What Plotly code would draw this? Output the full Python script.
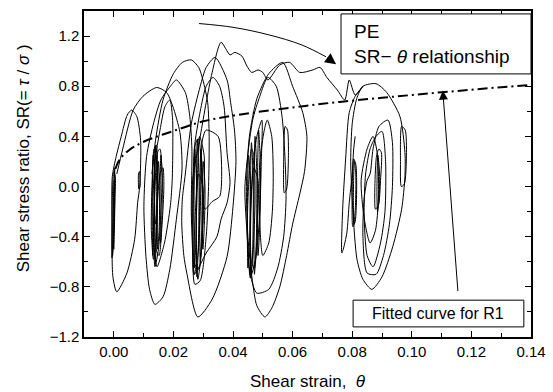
import plotly.graph_objects as go

# ---------------- data ----------------
# Group A loops (strain ~ 0.00)
group_a_x = [0.0000, -0.0005, -0.0006, -0.0002, 0.0004, 0.0005, 0.0000, None,
             0.0001, -0.0003, 0.0000, 0.0003, 0.0001, None,
             0.0003, -0.0002, -0.0004, 0.0002, 0.0003, None,
             -0.0005, 0.0008, 0.0025, 0.0045, 0.0060, 0.0077, 0.0090, 0.0087, 0.0080, 0.0070, 0.0044, 0.0010, -0.0003, -0.0006, -0.0005, None,
             0.0084, 0.0083, 0.0086, 0.0088, 0.0084]
group_a_y = [0.12, -0.10, -0.57, -0.45, -0.10, 0.08, 0.12, None,
             0.05, -0.35, -0.50, -0.20, 0.05, None,
             0.15, -0.30, -0.55, -0.20, 0.15, None,
             0.08, 0.24, 0.40, 0.57, 0.61, 0.56, 0.37, 0.00, -0.13, -0.42, -0.69, -0.84, -0.72, -0.29, 0.08, None,
             -0.02, 0.10, 0.12, 0.00, -0.02]

# Transition path A -> B (arc peaking near 0.79 and 0.85)
path_ab_x = [0.0010, 0.0030, 0.0065, 0.0098, 0.0144, 0.0177, 0.0198, 0.0222, 0.0229, 0.0210, 0.0188, 0.0165, 0.0138,
             0.0120, 0.0108, 0.0101, 0.0110, 0.0134, 0.0158, 0.0190, 0.0210, 0.0240, 0.0255, 0.0262, 0.0260, 0.0265]
path_ab_y = [0.10, 0.30, 0.61, 0.72, 0.79, 0.75, 0.64, 0.43, 0.14, -0.26, -0.66, -0.88, -0.94,
             -0.82, -0.56, -0.16, 0.24, 0.51, 0.69, 0.80, 0.85, 0.75, 0.56, 0.30, -0.20, -0.55]

# Group B loops (strain ~ 0.015)
group_b_x = [0.0135, 0.0128, 0.0126, 0.0133, 0.0142, 0.0146, 0.0145, 0.0135, None,
             0.0148, 0.0138, 0.0134, 0.0138, 0.0150, 0.0158, 0.0162, 0.0155, 0.0148, None,
             0.0155, 0.0145, 0.0142, 0.0152, 0.0162, 0.0168, 0.0165, 0.0155, None,
             0.0140, 0.0136, 0.0139, 0.0144, 0.0147, 0.0143, 0.0140, None,
             0.0132, 0.0129, 0.0131, 0.0135, 0.0137, 0.0132, None,
             0.0140, 0.0137, 0.0139, 0.0143, 0.0144, 0.0140, None,
             0.0150, 0.0146, 0.0147, 0.0152, 0.0154, 0.0150, None,
             0.0158, 0.0155, 0.0157, 0.0161, 0.0163, 0.0158, None,
             0.0132, 0.0138, 0.0155, 0.0172, 0.0188, 0.0197, 0.0198, 0.0196, 0.0190, 0.0170, 0.0145, 0.0136, 0.0132, None,
             0.0128, 0.0140, 0.0165, 0.0200, 0.0230, 0.0260, 0.0285, 0.0299, 0.0315, 0.0320, 0.0318, 0.0310, 0.0290, 0.0272, 0.0265]
group_b_y = [0.30, 0.00, -0.35, -0.58, -0.45, -0.10, 0.20, 0.30, None,
             0.28, 0.00, -0.40, -0.64, -0.50, -0.20, 0.10, 0.30, 0.28, None,
             0.10, -0.20, -0.50, -0.55, -0.30, 0.00, 0.15, 0.10, None,
             0.32, 0.05, -0.30, -0.20, 0.10, 0.33, 0.32, None,
             0.25, -0.20, -0.55, -0.30, 0.10, 0.25, None,
             0.33, -0.10, -0.62, -0.40, 0.00, 0.33, None,
             0.20, -0.20, -0.50, -0.35, 0.00, 0.20, None,
             0.25, -0.10, -0.45, -0.25, 0.05, 0.25, None,
             -0.10, 0.20, 0.45, 0.64, 0.69, 0.55, 0.30, 0.05, -0.15, -0.45, -0.64, -0.50, -0.10, None,
             0.10, 0.37, 0.69, 0.90, 0.99, 1.01, 0.95, 0.85, 0.67, 0.40, 0.00, -0.40, -0.75, -0.78, -0.50]

# Group C loops (strain ~ 0.028)
group_c_x = [0.0245, 0.0282, 0.0330, 0.0380, 0.0400, 0.0410, 0.0405, 0.0392, 0.0380, 0.0340, 0.0310, 0.0290, 0.0260, 0.0240, 0.0230, 0.0228, 0.0235, 0.0245, None,
             0.0275, 0.0268, 0.0265, 0.0270, 0.0282, 0.0290, 0.0292, 0.0285, 0.0275, None,
             0.0288, 0.0280, 0.0276, 0.0282, 0.0295, 0.0302, 0.0303, 0.0288, None,
             0.0285, 0.0272, 0.0272, 0.0285, 0.0297, 0.0299, 0.0285, None,
             0.0272, 0.0269, 0.0271, 0.0276, 0.0278, 0.0272, None,
             0.0280, 0.0277, 0.0279, 0.0284, 0.0286, 0.0280, None,
             0.0292, 0.0288, 0.0290, 0.0295, 0.0297, 0.0292, None,
             0.0300, 0.0297, 0.0299, 0.0304, 0.0306, 0.0300, None,
             0.0270, 0.0290, 0.0310, 0.0333, 0.0355, 0.0370, 0.0380, 0.0390, 0.0380, 0.0360, 0.0346, 0.0310, 0.0270, 0.0265, 0.0270, None,
             0.0296, 0.0306, 0.0330, 0.0355, 0.0362, 0.0350, 0.0310, 0.0296]
group_c_y = [-0.69, -1.04, -0.90, -0.56, -0.16, 0.20, 0.45, 0.67, 0.85, 1.03, 0.95, 0.80, 0.50, 0.10, -0.10, -0.29, -0.55, -0.69, None,
             0.35, 0.00, -0.40, -0.70, -0.55, -0.20, 0.20, 0.38, 0.35, None,
             0.40, 0.00, -0.45, -0.74, -0.50, -0.10, 0.25, 0.40, None,
             0.10, -0.30, -0.62, -0.66, -0.35, 0.00, 0.10, None,
             0.30, -0.20, -0.65, -0.40, 0.00, 0.30, None,
             0.38, -0.10, -0.72, -0.45, 0.05, 0.38, None,
             0.30, -0.15, -0.60, -0.35, 0.10, 0.30, None,
             0.20, -0.20, -0.50, -0.30, 0.00, 0.20, None,
             0.30, 0.60, 0.80, 0.87, 0.80, 0.64, 0.27, 0.03, -0.13, -0.26, -0.40, -0.53, -0.70, -0.40, 0.30, None,
             0.35, -0.18, -0.12, -0.08, 0.10, 0.40, 0.45, 0.35]

# Long wavy path from group C peak to group E
path_ce_x = [0.0262, 0.0265, 0.0290, 0.0310, 0.0330, 0.0360, 0.0390, 0.0406, 0.0430, 0.0447, 0.0463, 0.0484, 0.0500,
             0.0517, 0.0557, 0.0590, 0.0624, 0.0668, 0.0692, 0.0715, 0.0750, 0.0775, 0.0790, 0.0810, 0.0836]
path_ce_y = [-0.30, 0.06, 0.40, 0.67, 0.91, 1.15, 1.05, 1.07, 1.04, 0.96, 0.91, 0.93, 0.91,
             0.85, 0.97, 0.99, 0.91, 0.93, 0.95, 0.87, 0.77, 0.69, 0.85, 0.73, 0.80]

# Group D loops (strain ~ 0.05)
group_d_x = [0.0567, 0.0600, 0.0634, 0.0648, 0.0640, 0.0624, 0.0600, 0.0580, 0.0557, 0.0530, 0.0507, 0.0480, 0.0465, 0.0450, 0.0445, 0.0455, 0.0480, 0.0520, 0.0567, None,
             0.0440, 0.0466, 0.0490, 0.0517, 0.0545, 0.0565, 0.0575, 0.0578, 0.0570, 0.0550, 0.0520, 0.0480, 0.0458, 0.0448, 0.0440, None,
             0.0575, 0.0570, 0.0572, 0.0580, 0.0586, 0.0583, 0.0575, None,
             0.0462, 0.0452, 0.0448, 0.0458, 0.0468, 0.0474, 0.0470, 0.0462, None,
             0.0480, 0.0465, 0.0458, 0.0462, 0.0478, 0.0490, 0.0495, 0.0497, 0.0480, None,
             0.0470, 0.0460, 0.0462, 0.0472, 0.0482, 0.0484, 0.0470, None,
             0.0452, 0.0448, 0.0450, 0.0456, 0.0458, 0.0452, None,
             0.0462, 0.0458, 0.0460, 0.0466, 0.0468, 0.0462, None,
             0.0474, 0.0470, 0.0472, 0.0478, 0.0480, 0.0474, None,
             0.0486, 0.0482, 0.0484, 0.0490, 0.0492, 0.0486, None,
             0.0490, 0.0505, 0.0515, 0.0530, 0.0535, 0.0532, 0.0520, 0.0500, 0.0490, 0.0488, 0.0490]
group_d_y = [0.99, 0.80, 0.59, 0.40, 0.12, -0.06, -0.30, -0.55, -0.80, -0.97, -1.04, -0.95, -0.75, -0.40, 0.00, 0.40, 0.70, 0.90, 0.99, None,
             0.00, 0.53, 0.72, 0.87, 0.80, 0.55, 0.20, -0.10, -0.40, -0.65, -0.82, -0.85, -0.70, -0.40, 0.00, None,
             0.48, 0.20, -0.05, -0.02, 0.25, 0.45, 0.48, None,
             0.30, 0.00, -0.40, -0.73, -0.50, -0.10, 0.25, 0.30, None,
             0.40, 0.10, -0.30, -0.70, -0.55, -0.20, 0.20, 0.53, 0.40, None,
             0.15, -0.20, -0.60, -0.65, -0.30, 0.05, 0.15, None,
             0.25, -0.20, -0.65, -0.40, 0.00, 0.25, None,
             0.35, -0.10, -0.73, -0.50, 0.05, 0.35, None,
             0.40, -0.10, -0.70, -0.45, 0.10, 0.40, None,
             0.45, 0.00, -0.55, -0.30, 0.15, 0.45, None,
             0.20, 0.45, 0.53, 0.40, 0.10, -0.20, -0.45, -0.55, -0.30, 0.00, 0.20]

# Group E loops (strain ~ 0.087)
group_e_x = [0.0836, 0.0880, 0.0916, 0.0960, 0.0977, 0.0977, 0.0966, 0.0936, 0.0900, 0.0866, 0.0836, 0.0816, 0.0802, 0.0795, 0.0800, 0.0815, 0.0836, None,
             0.0836, 0.0810, 0.0790, 0.0778, 0.0768, 0.0765, 0.0770, 0.0782, 0.0790, 0.0800, 0.0805, 0.0810, None,
             0.0860, 0.0870, 0.0890, 0.0920, 0.0935, 0.0935, 0.0925, 0.0905, 0.0880, 0.0850, 0.0836, 0.0840, 0.0850, 0.0860, None,
             0.0845, 0.0860, 0.0880, 0.0900, 0.0912, 0.0910, 0.0895, 0.0870, 0.0850, 0.0840, 0.0845, None,
             0.0830, 0.0850, 0.0870, 0.0885, 0.0888, 0.0878, 0.0860, 0.0840, 0.0830, None,
             0.0805, 0.0800, 0.0802, 0.0810, 0.0815, 0.0812, 0.0805, None,
             0.0807, 0.0804, 0.0806, 0.0811, 0.0812, 0.0807, None,
             0.0882, 0.0876, 0.0878, 0.0888, 0.0895, 0.0898, 0.0890, 0.0882, None,
             0.0886, 0.0883, 0.0885, 0.0890, 0.0892, 0.0886, None,
             0.0966, 0.0962, 0.0965, 0.0975, 0.0982, 0.0978, 0.0966]
group_e_y = [0.80, 0.82, 0.75, 0.56, 0.27, 0.08, -0.18, -0.48, -0.72, -0.82, -0.74, -0.58, -0.18, 0.20, 0.50, 0.70, 0.80, None,
             0.80, 0.72, 0.59, 0.22, -0.18, -0.53, -0.50, -0.37, -0.13, 0.10, 0.30, 0.40, None,
             0.10, 0.30, 0.48, 0.53, 0.35, 0.00, -0.30, -0.55, -0.70, -0.69, -0.40, -0.10, 0.05, 0.10, None,
             0.10, 0.30, 0.40, 0.44, 0.20, -0.20, -0.45, -0.64, -0.55, -0.20, 0.10, None,
             0.05, 0.30, 0.40, 0.25, -0.10, -0.35, -0.45, -0.25, 0.05, None,
             0.22, -0.05, -0.32, -0.28, 0.00, 0.18, 0.22, None,
             0.20, -0.10, -0.30, -0.15, 0.10, 0.20, None,
             0.25, 0.00, -0.18, -0.15, 0.05, 0.27, 0.30, 0.25, None,
             0.25, -0.05, -0.20, -0.10, 0.10, 0.25, None,
             0.48, 0.20, 0.00, 0.02, 0.25, 0.45, 0.48]

# Fitted curve for R1
fit_x = [0.0005, 0.002, 0.005, 0.01, 0.02, 0.03, 0.04, 0.05, 0.06, 0.07, 0.08, 0.09, 0.10, 0.11, 0.12, 0.13, 0.14]
fit_y = [0.14, 0.217, 0.288, 0.357, 0.443, 0.52, 0.565, 0.60, 0.63, 0.66, 0.685, 0.708, 0.73, 0.752, 0.772, 0.792, 0.81]

# Curved pointer arrow (towards the label box)
arrow_curve_x = [0.0286, 0.0400, 0.0520, 0.0630, 0.0712]
arrow_curve_y = [1.30, 1.27, 1.21, 1.13, 1.035]

x_ticks = [0.00, 0.02, 0.04, 0.06, 0.08, 0.10, 0.12, 0.14]
y_ticks = [-1.2, -0.8, -0.4, 0.0, 0.4, 0.8, 1.2]

# ---------------- figure ----------------
FONT = "Liberation Sans, Arial, sans-serif"
fig = go.Figure()

line_style = dict(color="black", width=1, shape="spline", smoothing=0.7)
for gx, gy in [(group_a_x, group_a_y), (path_ab_x, path_ab_y), (group_b_x, group_b_y),
               (group_c_x, group_c_y), (path_ce_x, path_ce_y), (group_d_x, group_d_y),
               (group_e_x, group_e_y)]:
    fig.add_trace(go.Scatter(x=gx, y=gy, mode="lines", line=line_style,
                             connectgaps=False, showlegend=False, hoverinfo="skip"))

fig.add_trace(go.Scatter(x=fit_x, y=fit_y, mode="lines",
                         line=dict(color="black", width=2, dash="10px,4px,2px,4px", shape="spline"),
                         showlegend=False, hoverinfo="skip"))

fig.add_trace(go.Scatter(x=arrow_curve_x, y=arrow_curve_y, mode="lines",
                         line=dict(color="black", width=1, shape="spline"),
                         showlegend=False, hoverinfo="skip"))

axis_common = dict(showline=True, linecolor="black", linewidth=1.5, mirror="allticks",
                   ticks="inside", ticklen=6, tickwidth=1, tickcolor="black",
                   showgrid=False, zeroline=False, automargin=False,
                   tickfont=dict(family=FONT, size=15, color="black"))

fig.update_xaxes(range=[-0.01, 0.14], tickvals=x_ticks, tickformat=".2f",
                 minor=dict(dtick=0.01, tick0=0, ticks="inside", ticklen=4, tickcolor="black"),
                 **axis_common)
fig.update_yaxes(range=[-1.2, 1.4], tickvals=y_ticks, tickformat=".1f",
                 minor=dict(dtick=0.2, tick0=0, ticks="inside", ticklen=4, tickcolor="black"),
                 **axis_common)

fig.update_layout(
    width=553, height=392,
    margin=dict(l=84, r=22, t=11, b=55),
    paper_bgcolor="white", plot_bgcolor="white",
    font=dict(family=FONT, color="black"),
    shapes=[
        dict(type="rect", xref="paper", yref="paper", x0=0.575, x1=1.0, y0=0.807, y1=0.991,
             line=dict(color="black", width=1), fillcolor="white", layer="above"),
        dict(type="rect", xref="paper", yref="paper", x0=0.602, x1=0.984, y0=0.031, y1=0.113,
             line=dict(color="black", width=1), fillcolor="white", layer="above"),
    ],
)

annotations = [
    dict(text="PE", xref="paper", yref="paper", x=0.5996, y=0.9356, xanchor="left", yanchor="middle",
         showarrow=False, font=dict(family=FONT, size=19, color="black")),
    dict(text="SR− <i>θ</i> relationship", xref="paper", yref="paper", x=0.5996, y=0.8589,
         xanchor="left", yanchor="middle", showarrow=False, font=dict(family=FONT, size=19, color="black")),
    dict(text="Fitted curve for R1", xref="paper", yref="paper", x=0.792, y=0.0706,
         xanchor="center", yanchor="middle", showarrow=False, font=dict(family=FONT, size=16, color="black")),
    dict(text="Shear strain,  <i>θ</i>", xref="paper", yref="paper", x=0.5, y=-0.138,
         xanchor="center", yanchor="middle", showarrow=False, font=dict(family=FONT, size=17, color="black")),
    dict(text="Shear stress ratio, SR(= <i>τ</i> / <i>σ</i> )", xref="paper", yref="paper", x=-0.136, y=0.549,
         xanchor="center", yanchor="middle", textangle=-90, showarrow=False,
         font=dict(family=FONT, size=17, color="black")),
    # arrow to the fitted curve
    dict(text="", x=0.1104, y=0.765, xref="x", yref="y", ax=0.1155, ay=-0.845, axref="x", ayref="y",
         showarrow=True, arrowhead=2, arrowsize=1.8, arrowwidth=1, arrowcolor="black", standoff=0),
    # arrow head of curved pointer
    dict(text="", x=0.0746, y=0.975, xref="x", yref="y", ax=arrow_curve_x[-1], ay=arrow_curve_y[-1],
         axref="x", ayref="y", showarrow=True, arrowhead=2, arrowsize=2.2, arrowwidth=1,
         arrowcolor="black", standoff=0),
]
fig.update_layout(annotations=annotations)

fig.write_html("out.html", config={"displayModeBar": False},
               post_script="document.body.style.margin='0';document.body.style.overflow='hidden';")
